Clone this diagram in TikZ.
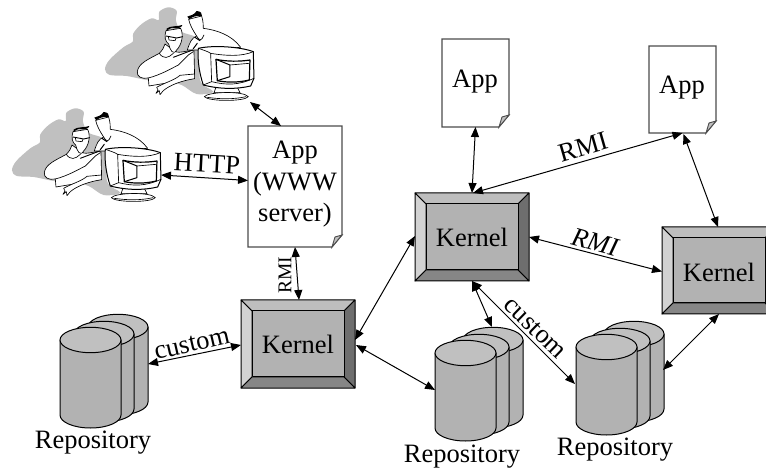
\documentclass[tikz,border=0pt]{standalone}
\usepackage{fontspec}
\setmainfont{Liberation Serif}
\usetikzlibrary{arrows.meta,calc}
\definecolor{repoTop}{HTML}{C0C0C0}
\definecolor{repoBody}{HTML}{B2B2B2}
\definecolor{keTop}{HTML}{BEBEBE}
\definecolor{keLeft}{HTML}{D2D2D2}
\definecolor{keRight}{HTML}{6E6E6E}
\definecolor{keBottom}{HTML}{868686}
\definecolor{keFace}{HTML}{B2B2B2}
\tikzset{
  lbl/.style={font=\fontsize{26.5}{31}\selectfont,inner sep=0pt,align=center},
  smalllbl/.style={font=\fontsize{19.5}{23}\selectfont,inner sep=0pt},
  link/.style={draw=black,line width=1pt,{Triangle[length=10pt,width=8pt]}-{Triangle[length=10pt,width=8pt]}},
  outline/.style={draw=black,line width=1pt,line join=round},
  pageedge/.style={draw=black!70,line width=1.1pt,line join=miter},
  ink/.style={draw=black,line width=.65pt,line join=round,line cap=round},
}
% page: left top right bottom name
\newcommand{\pagenode}[5]{%
  \node[minimum width=#3pt-#1pt,minimum height=#4pt-#2pt,inner sep=0pt,outer sep=0pt] (#5) at ({(#1+#3)/2},{(#2+#4)/2}) {};
  \draw[pageedge,fill=white] (#1,#2) -- (#3,#2) -- (#3,#4-12) -- (#3-10,#4) -- (#1,#4) -- cycle;
  \draw[draw=black!70,line width=.9pt,fill=repoTop] (#3,#4-12) -- (#3-10,#4) -- (#3-7,#4-10) -- cycle;
}
% kernel: left top right bottom name
\newcommand{\kernelnode}[5]{%
  \node[minimum width=#3pt-#1pt,minimum height=#4pt-#2pt,inner sep=0pt,outer sep=0pt,fill=keFace] (#5) at ({(#1+#3)/2},{(#2+#4)/2}) {};
  \begin{scope}[outline]
  \filldraw[fill=keTop] (#1,#2) -- (#3,#2) -- (#3-11,#2+11) -- (#1+11,#2+11) -- cycle;
  \filldraw[fill=keLeft] (#1,#2) -- (#1+11,#2+11) -- (#1+11,#4-11) -- (#1,#4) -- cycle;
  \filldraw[fill=keRight] (#3,#2) -- (#3-11,#2+11) -- (#3-11,#4-11) -- (#3,#4) -- cycle;
  \filldraw[fill=keBottom] (#1,#4) -- (#1+11,#4-11) -- (#3-11,#4-11) -- (#3,#4) -- cycle;
  \filldraw[fill=keFace] (#1+11,#2+11) rectangle (#3-11,#4-11);
  \end{scope}
}
% one cylinder: left, width, top-centre y
\newcommand{\cyl}[3]{%
  \filldraw[outline,fill=repoBody] (#1,#3) -- (#1,#3+75)
     arc[start angle=180,end angle=0,x radius=#2/2,y radius=13]
     -- ++(0,-75) -- cycle;
  \filldraw[outline,fill=repoTop] ({#1+#2/2},#3) ellipse[x radius=#2/2,y radius=12.7];
}
% repository stack: front-left, front top y, name
\newcommand{\reponode}[3]{%
  \node[minimum width=88pt,minimum height=114pt,inner sep=0pt,outer sep=0pt] (#3) at (#1+44,#2+31) {};
  \cyl{#1+28}{60}{#2-13}
  \cyl{#1+14}{60}{#2-6}
  \cyl{#1}{61}{#2}
}
% the two people and the monitor, in coordinates three times the pixel size
\newcommand{\usersfig}[2]{%
\begin{scope}[shift={(#1,#2)},x=.3333pt,y=-.3333pt]
  \fill[repoTop] plot[smooth cycle,tension=.55] coordinates {
    (315,208) (328,180) (370,142) (398,125) (400,100) (425,72) (455,55) (476,60)
    (478,35) (505,22) (530,32) (528,62) (545,95) (600,125) (600,240) (640,275)
    (590,282) (545,255) (500,245) (440,240) (380,228) (330,225)};
  % rear man
  \filldraw[ink,fill=white] (562,150) .. controls (570,125) and (575,115) .. (590,108)
     .. controls (578,90) and (570,75) .. (566,58) -- (605,48)
     .. controls (610,65) and (610,75) .. (610,85)
     .. controls (650,90) and (695,105) .. (722,142) -- (600,150) -- cycle;
  \draw[ink] (590,108) .. controls (600,125) and (605,122) .. (612,105);
  \draw[ink,line width=1pt] (585,112) -- (600,122) (592,130) -- (580,146);
  \fill[black] (562,50) .. controls (570,46) and (582,46) .. (590,33)
     .. controls (602,34) and (608,40) .. (606,48)
     .. controls (590,46) and (577,50) .. (568,58) -- cycle;
  % front man: body
  \filldraw[ink,fill=white] (412,215) .. controls (415,190) and (445,178) .. (478,160)
     .. controls (488,150) and (492,142) .. (495,132)
     -- (520,150) .. controls (530,165) and (560,150) .. (582,152)
     -- (584,235) -- (447,258) -- (445,234)
     .. controls (425,238) and (410,230) .. (412,215) -- cycle;
  \draw[ink] (445,234) .. controls (480,225) and (510,208) .. (535,195) -- (565,165) -- (580,155);
  \draw[ink] (478,160) .. controls (490,178) and (505,175) .. (520,160);
  \draw[ink,line width=.9pt] (520,172) -- (578,150);
  % lower arm with the hand
  \filldraw[ink,fill=white] (470,262) .. controls (490,250) and (525,240) .. (540,226)
     -- (584,222) -- (584,236) .. controls (545,242) and (510,255) .. (490,272)
     -- (480,284) -- (478,272) -- (468,280) -- (474,270) -- cycle;
  % front man: head
  \filldraw[ink,fill=white] (498,92) .. controls (492,110) and (496,125) .. (506,132)
     .. controls (510,150) and (520,168) .. (530,150)
     .. controls (545,135) and (552,105) .. (542,85) -- cycle;
  \fill[black] (500,86) .. controls (512,76) and (530,81) .. (547,75)
     .. controls (546,84) and (530,88) .. (516,83) .. controls (507,86) and (503,90) .. (500,94) -- cycle;
  \draw[ink,line width=.9pt] (498,108) -- (530,114) -- (548,110);
  \draw[ink] (505,110) -- (507,120) -- (525,122) -- (528,115);
  % monitor
  \filldraw[ink,fill=white] (648,262) -- (642,278) -- (720,278) -- (712,262) -- cycle;
  \filldraw[ink,fill=white] (613,290) .. controls (625,275) and (730,272) .. (745,290)
     .. controls (735,305) and (625,305) .. (613,290) -- cycle;
  \draw[ink] (622,292) .. controls (660,298) and (705,298) .. (738,290);
  \filldraw[ink,line width=1pt,fill=white] (595,145) .. controls (640,135) and (720,140) .. (760,155)
     -- (762,235) -- (752,258) .. controls (710,268) and (660,268) .. (610,255)
     .. controls (598,220) and (592,180) .. (595,145) -- cycle;
  \draw[ink] (595,145) .. controls (610,150) and (625,155) .. (632,160)
     -- (635,245) -- (610,255);
  \draw[ink] (632,160) .. controls (680,168) and (725,170) .. (760,155);
  \filldraw[ink,line width=1.2pt,fill=white] (648,178) .. controls (680,185) and (720,185) .. (750,180)
     -- (748,240) .. controls (715,248) and (680,248) .. (652,242) -- cycle;
  \draw[ink,line width=1pt] (648,178) -- (690,195) -- (690,230) -- (652,242);
  \draw[ink] (690,195) -- (748,190);
  \draw[ink] (635,245) .. controls (680,256) and (715,256) .. (762,235);
\end{scope}}
\begin{document}
\begin{tikzpicture}[x=1pt,y=-1pt]
\useasboundingbox (0,0) rectangle (766,470);
\clip (0,0) rectangle (766,470);
\usersfig{0}{0}
\usersfig{-93}{101}
\coordinate (usersA) at (250,102);
\coordinate (usersB) at (161,175);

\pagenode{248}{126}{342}{247}{www}
\pagenode{442}{39}{509}{127}{appOne}
\pagenode{649}{46}{716}{133}{appTwo}

\kernelnode{241}{300}{355}{388}{kA}
\kernelnode{415}{193}{529}{281}{kB}
\kernelnode{662}{227}{776}{314}{kC}

\reponode{60}{340}{rA}
\reponode{435}{353}{rB}
\reponode{576}{347}{rC}

\node[lbl] at (295,153) {App};
\node[lbl] at (295,184) {(WWW};
\node[lbl] at (295,215) {server)};
\node[lbl] at (475,82) {App};
\node[lbl] at (682,88) {App};
\node[lbl] at (298,344) {Kernel};
\node[lbl] at (472,237) {Kernel};
\node[lbl] at (719,272) {Kernel};
\node[lbl] at (93,443) {Repository};
\node[lbl] at (462,457) {Repository};
\node[lbl] at (615,450) {Repository};

\node[lbl,rotate=-3] at (207,164) {HTTP};
\node[smalllbl,rotate=90] at (285,275) {RMI};
\node[lbl,rotate=16] at (583,147) {RMI};
\node[lbl,rotate=-15,font=\fontsize{26.5}{31}\selectfont\itshape] at (595,242) {RMI};
\node[lbl,rotate=13] at (192,344) {custom};
\node[lbl,rotate=-44] at (535,328) {custom};

\draw[link] (usersA) -- ([xshift=-14pt]www.north);
\draw[link] (usersB) -- ([yshift=6pt]www.west);
\draw[link] (www.south) -- ([xshift=1pt]kA.north);
\draw[link] ($(rA.east)+(0,-7)$) -- ([yshift=-1pt]kA.west);
\draw[link] ([yshift=4pt]kA.east) -- ([yshift=1pt]kB.west);
\draw[link] ([xshift=1pt,yshift=-1pt]kA.east) -- ($(rB.west)+(0,6)$);
\draw[link] (appOne.south) -- (kB.north);
\draw[link] ([xshift=1pt]kB.north) -- (appTwo.south);
\draw[link] ([xshift=1pt,yshift=-1pt]appTwo.south) -- ([xshift=-1pt]kC.north);
\draw[link] (kB.east) -- ([yshift=-1pt]kC.west);
\draw[link] (kB.south) -- ($(rB.north)+(13,0)$);
\draw[link] (kB.south) -- ($(rC.west)+(-1,6)$);
\draw[link] ($(rC.east)+(-1,-8)$) -- (kC.south);
\end{tikzpicture}
\end{document}
